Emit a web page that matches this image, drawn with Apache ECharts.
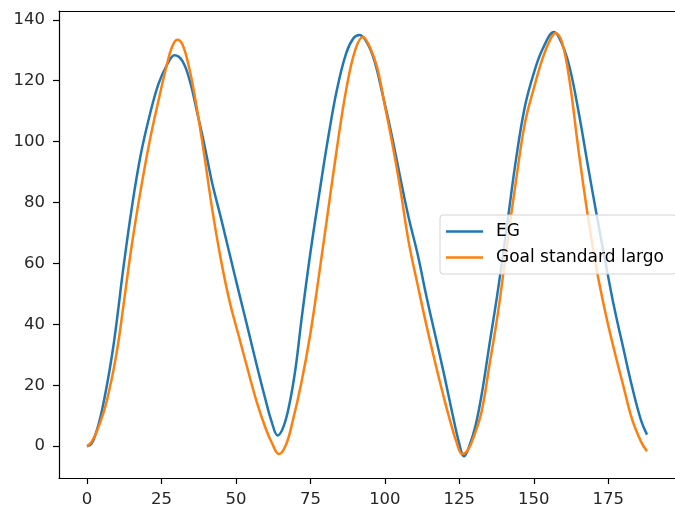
<!DOCTYPE html>
<html>
<head>
<meta charset="utf-8">
<script src="https://cdn.jsdelivr.net/npm/echarts@6/dist/echarts.min.js"></script>
<style>
html,body{margin:0;padding:0;background:#fff;}
#chart{width:675px;height:508px;}
</style>
</head>
<body>
<div id="chart"></div>
<script>
// Tick labels
const xTicks = [0, 25, 50, 75, 100, 125, 150, 175];
const yTicks = [0, 20, 40, 60, 80, 100, 120, 140];

// Series names
const seriesNames = ["EG", "Goal standard largo"];

// EG series (blue): sample positions and values
const egX = [0, 1.5, 3, 4.5, 6, 7.5, 9, 10.5, 12, 15, 18, 21, 24, 27, 29.4, 32, 34.5, 37, 39.5, 42, 45, 48, 51, 54, 57, 60, 62, 64, 66, 68, 70, 72, 75, 78, 81, 84, 87, 89.5, 91.5, 94, 96.5, 99, 102, 105, 108, 111, 114, 117, 120, 122.5, 124.8, 126.6, 128.5, 130.5, 132.5, 135, 138, 141, 144, 147, 150, 153, 156.8, 159.5, 162, 165, 168, 171, 174, 177, 180, 183, 186, 188];
const egY = [0, 0.8, 4.3, 9.5, 16.5, 24.5, 33.8, 45, 57, 78, 95.5, 108.5, 119, 125.5, 128.4, 126.5, 120, 109.5, 98.5, 86.5, 74.8, 62.6, 50.5, 38.6, 26.5, 15, 8, 3.5, 6.5, 14, 25.5, 41.5, 63.5, 83, 101.5, 117.5, 129, 134, 135, 132.5, 126.5, 116.5, 103.5, 89, 75, 63, 49, 36, 23, 11.5, 1.5, -3.3, 0.5, 7, 17, 32.7, 51.5, 72.5, 94, 111.5, 122.5, 130.5, 136, 132, 124.5, 110, 93, 76.5, 60.7, 45.5, 32.4, 19.5, 8.5, 3.8];

// Goal standard largo series (orange)
const goalX = [0, 1.5, 3, 4.5, 6, 7.5, 9, 10.5, 12, 15, 18, 21, 24, 26.5, 28.5, 30.3, 32, 34, 36, 39, 42, 45, 48, 51, 54, 57, 60, 62, 64.4, 66.8, 69, 72, 75, 78, 81, 84, 87, 90, 92.6, 95, 97.5, 100, 102.5, 105, 108, 111, 114, 117, 120, 122, 124, 126, 128, 130, 132.5, 135, 138, 141, 144, 147, 150, 153, 155.5, 157.3, 159.5, 162, 165, 168, 171, 174, 177, 180, 183, 186, 188];
const goalY = [0, 1.4, 4.2, 8, 12.5, 18.5, 25.5, 34, 44.5, 65.8, 84, 100, 113.5, 124, 131, 133.5, 132, 125.5, 116, 98, 78, 61, 47, 36, 25, 14.5, 5.8, 1.2, -2.6, 0.5, 8, 21, 37, 57, 77.8, 98.5, 117, 130, 134.4, 131, 124, 111.8, 99.3, 85.6, 67, 53, 39.5, 27, 15.2, 8, 1.5, -2.6, -1, 3.5, 11.5, 26, 44, 66, 87, 106, 117.5, 127.5, 133.5, 135.7, 132.5, 120, 97.2, 76.5, 58.5, 44, 31.5, 20, 8.8, 1.5, -1.7];

function pairs(xv, yv) { return xv.map((x, i) => [x, yv[i]]); }

const chart = echarts.init(document.getElementById('chart'), null, {renderer: 'canvas'});
const font = 'DejaVu Sans';
const axisCommon = {
  axisLine: {show: true, onZero: false, lineStyle: {color: '#000', width: 1.2}},
  axisTick: {show: true, inside: false, length: 6, lineStyle: {color: '#000', width: 1.2}},
  splitLine: {show: false},
  axisLabel: {color: '#262626', fontFamily: font, fontSize: 16.5}
};
const lineIcon = 'path://M0,0 L37,0 L37,2.5 L0,2.5 Z';
chart.setOption({
  animation: false,
  backgroundColor: '#fff',
  grid: {left: 59, top: 11, width: 628, height: 467, containLabel: false},
  legend: {
    orient: 'vertical', left: 440, top: 215,
    data: [{name: seriesNames[0], icon: lineIcon}, {name: seriesNames[1], icon: lineIcon}],
    itemWidth: 37, itemHeight: 16, itemGap: 9,
    padding: [8, 12, 8, 6],
    backgroundColor: 'rgba(255,255,255,0.8)',
    borderColor: '#d4d4d4', borderWidth: 1, borderRadius: 3,
    textStyle: {fontFamily: font, fontSize: 17, color: '#000', padding: [0, 0, 0, 8]}
  },
  xAxis: [
    Object.assign({}, axisCommon, {
      type: 'value', min: -9.4, max: 197.4, position: 'bottom',
      axisLabel: Object.assign({}, axisCommon.axisLabel, {margin: 13, customValues: xTicks}),
      axisTick: Object.assign({}, axisCommon.axisTick, {customValues: xTicks})
    }),
    {type: 'value', min: -9.4, max: 197.4, position: 'top',
     axisLine: {show: true, onZero: false, lineStyle: {color: '#000', width: 1.2}},
     axisTick: {show: false}, axisLabel: {show: false}, splitLine: {show: false}}
  ],
  yAxis: Object.assign({}, axisCommon, {
    type: 'value', min: -10.45, max: 142.9,
    axisLabel: Object.assign({}, axisCommon.axisLabel, {margin: 14, customValues: yTicks}),
    axisTick: Object.assign({}, axisCommon.axisTick, {customValues: yTicks})
  }),
  series: [
    {name: seriesNames[0], type: 'line', data: pairs(egX, egY), symbol: 'none', smooth: 0.4,
     lineStyle: {color: '#1f77b4', width: 2.5}, itemStyle: {color: '#1f77b4'}, z: 2},
    {name: seriesNames[1], type: 'line', data: pairs(goalX, goalY), symbol: 'none', smooth: 0.4,
     lineStyle: {color: '#ff7f0e', width: 2.5}, itemStyle: {color: '#ff7f0e'}, z: 3}
  ]
});
</script>
</body>
</html>
